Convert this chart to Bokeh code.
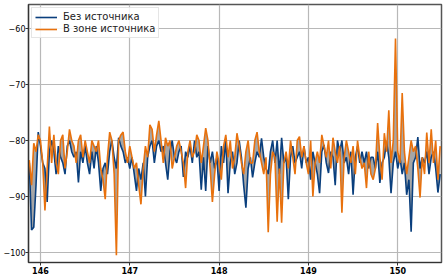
from bokeh.plotting import figure
from bokeh.models import Range1d, FixedTicker, ColumnDataSource, Legend, LegendItem
from bokeh.embed import file_html
from bokeh.resources import INLINE

x_start = 145.875
x_step = 0.025

blue = [
    -84, -96, -95.5, -88, -78.5, -81, -84, -85, -91, -82,
    -80, -82, -86, -81, -83, -84, -86, -81, -80, -82,
    -83, -82, -87.5, -82, -84, -81, -84, -86, -82, -85,
    -81, -84, -89, -85, -84, -86, -82, -80, -83, -85,
    -79.5, -81, -82, -84, -83, -85, -83, -86, -89, -85,
    -87, -84, -90, -83, -81, -80, -84, -81, -80, -82,
    -81, -84, -87, -82, -80, -83, -84, -82, -81, -86.5,
    -82, -83, -81, -84, -80, -83, -82, -88.8, -83, -89,
    -81, -84, -82, -85, -83, -89, -81, -84, -80, -89.4,
    -84, -82, -86, -84, -80, -83, -88, -92, -85, -83,
    -86.6, -84, -82, -83, -79.6, -83, -85, -86, -82, -80,
    -84, -80, -86, -79.5, -84, -83, -90.5, -83, -81, -84,
    -83, -82, -85, -81, -84, -83, -87, -82, -84, -86,
    -89.4, -82, -80.8, -84, -85.8, -82, -83, -88, -80, -82,
    -80, -84, -83, -86, -82, -89.7, -83, -81, -84, -82,
    -84, -82, -85, -83, -83, -85, -82, -87.6, -84, -83,
    -80.2, -83, -89.4, -84, -82, -85, -83, -86, -84, -89.7,
    -87, -96.3, -84, -83, -79.4, -85, -83, -84, -82, -86,
    -83, -82, -85, -89.3, -86,
]

orange = [
    -83.5, -88, -80.5, -82, -79, -80, -84, -92.5, -85, -77.5,
    -84, -79, -84, -86, -80, -79, -85, -82, -78, -80,
    -81, -84, -80, -79, -83, -80, -82, -84, -80, -81,
    -82, -80, -85, -87, -90.5, -83, -78.5, -80, -86, -100.5,
    -80, -79, -78.5, -82, -84, -81, -83, -85, -84, -88,
    -91.4, -85, -81, -83, -77.2, -78, -82, -79, -76.5, -80,
    -84, -79.5, -81, -80, -85, -83, -81, -80, -82, -84,
    -88.5, -82, -80, -83, -82, -79, -80, -84, -81, -77.8,
    -80, -85, -91, -86, -82, -84, -87, -81, -79, -83,
    -80, -85, -83, -78.7, -81, -84, -86, -82, -80, -84,
    -84, -80, -78.5, -82, -84, -86, -83, -96.4, -86, -82,
    -83, -94.5, -85, -94.7, -84, -82, -85, -80, -83, -86,
    -80, -79.3, -83, -81, -84, -86, -80, -90, -84, -82,
    -84, -79, -81, -83, -80, -85, -79.5, -82, -84, -81,
    -92.9, -83, -80, -82, -84, -81, -86, -80, -83, -85,
    -84, -88.5, -82, -86, -87, -85, -76.9, -83, -87, -78.7,
    -82, -74.6, -84, -80, -61.8, -82, -84, -71.5, -82, -86,
    -83, -80, -82, -81, -85, -90.2, -83, -86, -78.6, -84,
    -78, -84, -80, -87, -81,
]

freq = [round(x_start + i * x_step, 4) for i in range(len(blue))]

x_ticks = [146, 147, 148, 149, 150]
y_ticks = [-100, -90, -80, -70, -60]
y_labels = {v: "\u2212" + str(abs(v)) for v in y_ticks}
series_names = ["Без источника", "В зоне источника"]

src = ColumnDataSource(dict(x=freq, b=blue, o=orange))

p = figure(width=445, height=276, output_backend="svg", toolbar_location=None,
           x_range=Range1d(145.866, 150.49), y_range=Range1d(-101.8, -55.7),
           min_border_left=0, min_border_right=4, min_border_top=4, min_border_bottom=0)

p.varea(x="x", y1="b", y2="o", source=src, fill_color="#a6a6a6", fill_alpha=1.0)
lb = p.line(x="x", y="b", source=src, line_color="#0a3f7d", line_width=1.6)
lo = p.line(x="x", y="o", source=src, line_color="#e8710d", line_width=1.6)

font = "DejaVu Sans"
for ax in (p.xaxis[0], p.yaxis[0]):
    ax.major_label_text_font = font
    ax.major_label_text_font_size = "8px"
    ax.major_label_text_font_style = "normal"
    ax.major_label_text_color = "#000000"
    ax.major_tick_out = 3
    ax.major_tick_in = 0
    ax.minor_tick_out = 0
    ax.minor_tick_in = 0
    ax.major_label_standoff = 1
    ax.axis_label_standoff = 0
    ax.axis_line_color = "#333333"
    ax.axis_line_width = 1.2
    ax.major_tick_line_color = "#333333"

p.yaxis[0].major_label_standoff = 0
p.xaxis[0].major_label_text_font_style = "bold"

p.xaxis[0].ticker = FixedTicker(ticks=x_ticks)
p.yaxis[0].ticker = FixedTicker(ticks=y_ticks)
p.yaxis[0].major_label_overrides = y_labels

p.xgrid.grid_line_color = "#b8b8b8"
p.ygrid.grid_line_color = "#b8b8b8"
p.xgrid.grid_line_width = 1.2
p.ygrid.grid_line_width = 1.2

p.outline_line_color = "#555555"
p.outline_line_width = 1.5
p.background_fill_color = "white"
p.border_fill_color = "white"

legend = Legend(items=[LegendItem(label=series_names[0], renderers=[lb]),
                       LegendItem(label=series_names[1], renderers=[lo])],
                location="top_left")
legend.label_text_font = font
legend.label_text_font_size = "10px"
legend.label_text_color = "#222222"
legend.label_height = 10
legend.glyph_height = 10
legend.glyph_width = 22
legend.spacing = 1
legend.padding = 3
legend.margin = 3
legend.label_standoff = 6
legend.border_line_color = "#cccccc"
legend.border_line_width = 1
legend.background_fill_alpha = 0.85
p.add_layout(legend)

open("out.html", "w").write(file_html(p, INLINE))
